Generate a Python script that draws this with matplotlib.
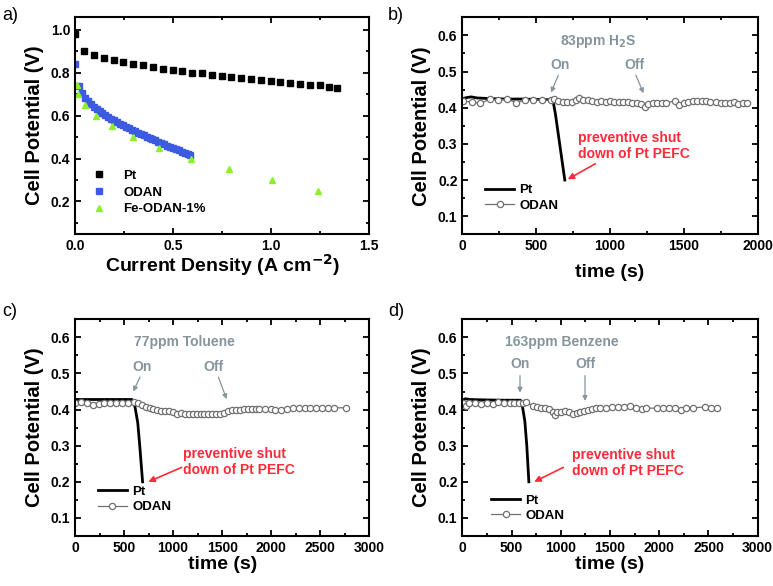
import numpy as np
import matplotlib
matplotlib.use("Agg")
from matplotlib import pyplot as plt
from matplotlib.ticker import MultipleLocator

plt.rcParams['font.family'] = ['Liberation Sans', 'DejaVu Sans']
plt.rcParams['font.weight'] = 'bold'

# ---- panel a: polarisation curves
pt_j = [0.0, 0.047, 0.097, 0.147, 0.197, 0.247, 0.297, 0.347, 0.397, 0.447, 0.497,
        0.547, 0.597, 0.647, 0.697, 0.747, 0.797, 0.847, 0.897, 0.947, 0.997,
        1.047, 1.097, 1.147, 1.197, 1.247, 1.297, 1.337]
pt_v = [0.98, 0.90, 0.882, 0.867, 0.857, 0.847, 0.839, 0.833, 0.825, 0.818, 0.812,
        0.806, 0.800, 0.796, 0.790, 0.784, 0.779, 0.773, 0.769, 0.766, 0.761,
        0.756, 0.752, 0.749, 0.744, 0.740, 0.735, 0.729]
odan_j = [0.0, 0.02, 0.035, 0.05, 0.065, 0.08, 0.095, 0.11, 0.125, 0.14, 0.155, 0.17,
          0.185, 0.20, 0.215, 0.23, 0.245, 0.26, 0.275, 0.29, 0.305, 0.32, 0.335,
          0.35, 0.365, 0.38, 0.395, 0.41, 0.425, 0.44, 0.455, 0.47, 0.485, 0.50,
          0.515, 0.53, 0.545, 0.56, 0.575, 0.588]
odan_v = [0.84, 0.737, 0.705, 0.682, 0.667, 0.654, 0.642, 0.631, 0.621, 0.611, 0.602,
          0.593, 0.585, 0.577, 0.569, 0.561, 0.554, 0.547, 0.540, 0.533, 0.526, 0.520,
          0.514, 0.508, 0.502, 0.496, 0.490, 0.484, 0.478, 0.472, 0.466, 0.460,
          0.454, 0.449, 0.443, 0.438, 0.432, 0.427, 0.422, 0.418]
fe_j = [0.008, 0.017, 0.05, 0.109, 0.19, 0.294, 0.428, 0.591, 0.784, 1.003, 1.238]
fe_v = [0.74, 0.70, 0.65, 0.60, 0.55, 0.50, 0.45, 0.40, 0.35, 0.30, 0.25]

# ---- panel b: 83 ppm H2S
b_pt_t = [0, 30, 60, 100, 200, 300, 400, 500, 600, 615, 631, 694]
b_pt_v = [0.425, 0.428, 0.430, 0.427, 0.425, 0.424, 0.424, 0.423, 0.422, 0.418, 0.381, 0.20]
b_od_t = [5, 63, 120, 185, 245, 305, 365, 425, 480, 540, 600, 620, 650, 680, 710, 740,
          770, 790, 820, 850, 880, 910, 940, 970, 1000, 1030, 1060, 1090, 1120, 1150,
          1180, 1210, 1235, 1260, 1290, 1320, 1350, 1380, 1440, 1470, 1500, 1530, 1560,
          1590, 1620, 1650, 1680, 1720, 1750, 1780, 1810, 1840, 1870, 1900, 1930]
b_od_v = [0.418, 0.416, 0.412, 0.423, 0.422, 0.423, 0.414, 0.421, 0.421, 0.422, 0.420,
          0.424, 0.418, 0.416, 0.416, 0.417, 0.420, 0.428, 0.421, 0.420, 0.419, 0.417,
          0.418, 0.417, 0.418, 0.416, 0.416, 0.417, 0.416, 0.414, 0.414, 0.411, 0.403,
          0.410, 0.413, 0.414, 0.414, 0.413, 0.419, 0.407, 0.412, 0.415, 0.418, 0.418,
          0.418, 0.418, 0.416, 0.415, 0.414, 0.414, 0.414, 0.416, 0.410, 0.414, 0.414]

# ---- panel c: 77 ppm toluene
c_pt_t = [0, 300, 580, 610, 640, 660, 689]
c_pt_v = [0.428, 0.428, 0.428, 0.41, 0.363, 0.30, 0.20]
c_od_t = [0, 60, 120, 180, 240, 300, 360, 420, 480, 540, 600, 640, 680, 720, 760, 800,
          840, 880, 920, 960, 1000, 1040, 1080, 1120, 1160, 1200, 1240, 1280, 1320,
          1360, 1400, 1440, 1480, 1520, 1560, 1600, 1640, 1680, 1720, 1760, 1800, 1840,
          1880, 1940, 2000, 2040, 2100, 2160, 2220, 2280, 2340, 2400, 2460, 2520, 2580,
          2640, 2760]
c_od_v = [0.418, 0.420, 0.418, 0.414, 0.416, 0.418, 0.418, 0.418, 0.418, 0.418, 0.420,
          0.419, 0.413, 0.408, 0.404, 0.401, 0.398, 0.397, 0.396, 0.395, 0.392, 0.389,
          0.390, 0.388, 0.388, 0.388, 0.389, 0.388, 0.389, 0.388, 0.389, 0.388, 0.387,
          0.390, 0.395, 0.398, 0.399, 0.400, 0.401, 0.402, 0.401, 0.402, 0.403, 0.403,
          0.401, 0.398, 0.398, 0.402, 0.404, 0.404, 0.405, 0.405, 0.405, 0.405, 0.405,
          0.405, 0.405]

# ---- panel d: 163 ppm benzene
d_pt_t = [0, 30, 80, 200, 400, 590, 610, 635, 655, 676]
d_pt_v = [0.425, 0.430, 0.428, 0.427, 0.426, 0.426, 0.41, 0.368, 0.30, 0.20]
d_od_t = [10, 40, 70, 130, 190, 250, 310, 360, 420, 480, 530, 580, 620, 650, 720, 760,
          800, 840, 880, 920, 940, 960, 1000, 1040, 1080, 1120, 1160, 1200, 1240, 1280,
          1320, 1360, 1400, 1460, 1520, 1580, 1640, 1700, 1760, 1820, 1870, 1980, 2040,
          2100, 2160, 2220, 2270, 2340, 2460, 2530, 2590]
d_od_v = [0.418, 0.410, 0.418, 0.418, 0.416, 0.418, 0.416, 0.422, 0.417, 0.418, 0.418,
          0.418, 0.419, 0.420, 0.410, 0.408, 0.405, 0.404, 0.402, 0.393, 0.385, 0.393,
          0.394, 0.395, 0.393, 0.387, 0.390, 0.393, 0.396, 0.400, 0.403, 0.405, 0.405,
          0.404, 0.406, 0.406, 0.408, 0.409, 0.405, 0.402, 0.404, 0.404, 0.404, 0.404,
          0.405, 0.399, 0.404, 0.405, 0.407, 0.405, 0.405]

GRAY = '#85959b'
RED = '#ff2a3a'
ODAN_GRAY = '#707070'


def style(ax, xmaj, xmin, ymaj, ymin):
    ax.xaxis.set_major_locator(MultipleLocator(xmaj))
    ax.xaxis.set_minor_locator(MultipleLocator(xmin))
    ax.yaxis.set_major_locator(MultipleLocator(ymaj))
    ax.yaxis.set_minor_locator(MultipleLocator(ymin))
    ax.tick_params(which='both', direction='in', top=True, right=True,
                   width=1.3, labelsize=10)
    ax.tick_params(which='major', length=4)
    ax.tick_params(which='minor', length=2.5)
    for lab in ax.get_xticklabels() + ax.get_yticklabels():
        lab.set_fontweight('bold')
    for s in ax.spines.values():
        s.set_linewidth(1.5)
    ax.set_ylabel('Cell Potential (V)', fontsize=14.5, fontweight='bold', labelpad=5)


fig = plt.figure(figsize=(7.73, 5.86), dpi=100)
W, H = 773, 586


def add_ax(l, t, r, b):
    return fig.add_axes([l / W, 1 - b / H, (r - l) / W, (b - t) / H])


axa = add_ax(75, 16.7, 369.3, 233.7)
axb = add_ax(462.3, 17.3, 757.7, 234.3)
axc = add_ax(75, 319.3, 369.3, 536)
axd = add_ax(462.3, 319.3, 757.7, 536)

# panel a
axa.plot(pt_j, pt_v, 's', color='black', ms=4, label='Pt')
axa.plot(odan_j, odan_v, 's', color='#3d5be0', ms=4, label='ODAN')
axa.plot(fe_j, fe_v, '^', color='#8cf02a', ms=5, label='Fe-ODAN-1%')
axa.set_xlim(0, 1.5)
axa.set_ylim(0.05, 1.06)
style(axa, 0.5, 0.25, 0.2, 0.1)
axa.set_xlabel('Current Density (A cm$^{\\mathbf{-2}}$)', fontsize=14,
               fontweight='bold', labelpad=0)
axa.legend(loc='lower left', bbox_to_anchor=(0.02, 0.06), frameon=False,
           prop={'weight': 'bold', 'size': 9.5}, handletextpad=0.8,
           labelspacing=0.35, borderaxespad=0)


def time_panel(ax, pt_t, pt_v, od_t, od_v, xmax, gas, gas_xy, on_txt, on_arr,
               off_txt, off_arr, red_xy, red_arr, leg_anchor, xpad):
    ax.plot(pt_t, pt_v, '-', color='black', lw=2, label='Pt')
    ax.plot(od_t, od_v, '-o', color=ODAN_GRAY, lw=0.9, ms=4.5, mfc='white',
            mec=ODAN_GRAY, mew=0.9, label='ODAN')
    ax.set_xlim(0, xmax)
    ax.set_ylim(0.05, 0.65)
    style(ax, 500, 250, 0.1, 0.05)
    ax.set_xlabel('time (s)', fontsize=14, fontweight='bold', labelpad=xpad)
    ax.text(gas_xy[0], gas_xy[1], gas, color=GRAY, fontsize=10, fontweight='bold',
            ha='center', va='center')
    ax.text(on_txt[0], on_txt[1], 'On', color=GRAY, fontsize=10, fontweight='bold',
            ha='center', va='center')
    ax.text(off_txt[0], off_txt[1], 'Off', color=GRAY, fontsize=10, fontweight='bold',
            ha='center', va='center')
    for a in (on_arr, off_arr):
        ax.annotate('', xy=a[1], xytext=a[0],
                    arrowprops=dict(arrowstyle='-|>', color=GRAY, lw=0.9,
                                    mutation_scale=7, shrinkA=0, shrinkB=0))
    ax.text(red_xy[0], red_xy[1], 'preventive shut\ndown of Pt PEFC', color=RED,
            fontsize=10, fontweight='bold', ha='left', va='center', linespacing=1.15)
    ax.annotate('', xy=red_arr[1], xytext=red_arr[0],
                arrowprops=dict(arrowstyle='-|>', color=RED, lw=1.2,
                                mutation_scale=9, shrinkA=0, shrinkB=0))
    ax.legend(loc='lower left', bbox_to_anchor=leg_anchor, frameon=False,
              prop={'weight': 'bold', 'size': 9.5}, handlelength=2.2,
              handletextpad=0.4, labelspacing=0.25, borderaxespad=0)


time_panel(axb, b_pt_t, b_pt_v, b_od_t, b_od_v, 2000, '83ppm H$_{\\mathbf{2}}$S',
           (919, 0.582), (661, 0.518), ((650, 0.49), (601, 0.442)),
           (1168, 0.518), ((1175, 0.49), (1227, 0.44)),
           (782, 0.295), ((900, 0.245), (714, 0.202)), (0.06, 0.08), 8)
time_panel(axc, c_pt_t, c_pt_v, c_od_t, c_od_v, 3000, '77ppm Toluene',
           (1111, 0.586), (680, 0.517), ((663, 0.49), (594, 0.45)),
           (1410, 0.517), ((1461, 0.49), (1546, 0.429)),
           (1098, 0.254), ((1087, 0.24), (747, 0.2)), (0.06, 0.08), 0.5)
time_panel(axd, d_pt_t, d_pt_v, d_od_t, d_od_v, 3000, '163ppm Benzene',
           (1009, 0.586), (586, 0.525), ((586, 0.494), (586, 0.447)),
           (1253, 0.525), ((1246, 0.494), (1246, 0.424)),
           (1111, 0.252), ((1026, 0.24), (730, 0.2)), (0.08, 0.04), 0.5)

for lab, x, y in [('a)', 2, 15), ('b)', 388, 15), ('c)', 2, 312), ('d)', 388, 312)]:
    fig.text(x / W, 1 - y / H, lab, fontsize=13, fontweight='normal',
             ha='left', va='center')

fig.savefig('out.png', dpi=100)
